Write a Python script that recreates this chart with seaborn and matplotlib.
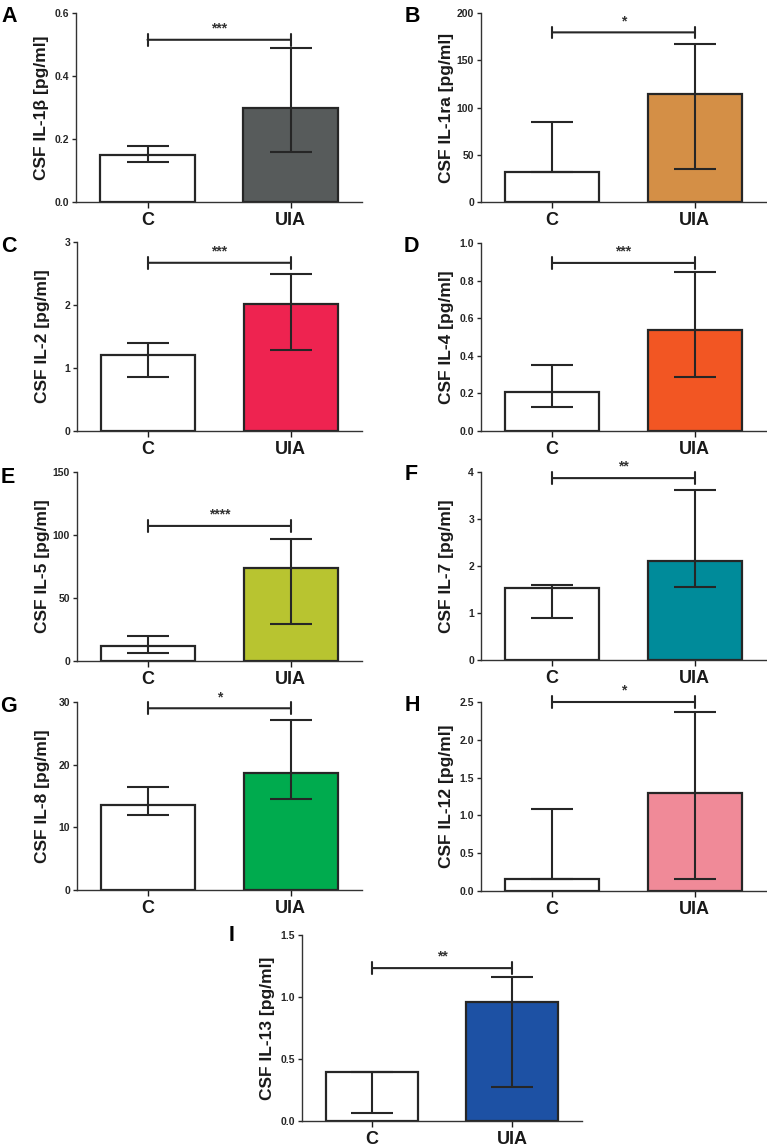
import matplotlib
matplotlib.use("Agg")
import matplotlib.pyplot as plt
import numpy as np
import pandas as pd
import seaborn as sns

# Panel data: bar height plus asymmetric error limits.
panels = ["A", "B", "C", "D", "E", "F", "G", "H", "I"]
ylabels = [
    "CSF IL-1β [pg/ml]", "CSF IL-1ra [pg/ml]", "CSF IL-2 [pg/ml]",
    "CSF IL-4 [pg/ml]", "CSF IL-5 [pg/ml]", "CSF IL-7 [pg/ml]",
    "CSF IL-8 [pg/ml]", "CSF IL-12 [pg/ml]", "CSF IL-13 [pg/ml]",
]
groups = ["C", "UIA"]
c_mid = [0.150, 31.5, 1.20, 0.205, 11.9, 1.53, 13.6, 0.155, 0.393]
c_low = [0.127, 31.5, 0.85, 0.129, 6.4, 0.90, 12.0, 0.165, 0.067]
c_high = [0.178, 84.8, 1.39, 0.349, 20.2, 1.60, 16.5, 1.09, 0.398]
uia_mid = [0.297, 113.8, 2.02, 0.538, 73.5, 2.11, 18.6, 1.29, 0.963]
uia_low = [0.160, 35.3, 1.285, 0.288, 29.2, 1.55, 14.5, 0.163, 0.275]
uia_high = [0.489, 166.8, 2.485, 0.846, 96.9, 3.61, 27.1, 2.367, 1.158]
stars = ["***", "*", "***", "***", "****", "**", "*", "*", "**"]
sig_y = [0.515, 179.5, 2.67, 0.894, 107.2, 3.87, 29.0, 2.5, 1.233]
y_max = [0.6, 200, 3, 1.0, 150, 4, 30, 2.5, 1.5]
y_step = [0.2, 50, 1, 0.2, 50, 1, 10, 0.5, 0.5]
y_decimals = [1, 0, 0, 1, 0, 0, 0, 1, 1]
uia_colors = ["#575b5b", "#d48f46", "#ee2350", "#f25623", "#b8c430",
              "#008b9a", "#00ab4e", "#f08a98", "#1d51a4"]

# Layout in pixels: axes (left, top, right, bottom) and panel letter (x, top)
W, H = 767, 1146
axes_px = [
    (76, 13, 362, 202), (481, 13, 766, 202),
    (77, 242, 362, 431), (481, 243, 766, 431),
    (77, 472, 362, 661), (481, 472, 766, 660),
    (77, 702, 362, 890), (481, 702, 766, 891),
    (302, 935, 582, 1121),
]
letter_px = [(1, 6), (405, 6), (1, 236), (404, 236), (1, 467),
             (405, 464), (0, 696), (405, 695), (229, 925)]

sns.set_theme(style="ticks")
plt.rcParams["font.family"] = ["Liberation Sans", "DejaVu Sans"]
plt.rcParams["font.weight"] = "bold"

INK = "#262626"

fig = plt.figure(figsize=(W / 100, H / 100), dpi=100)

for i in range(len(panels)):
    l, t, r, b = axes_px[i]
    ax = fig.add_axes([l / W, 1 - b / H, (r - l) / W, (b - t) / H])

    df = pd.DataFrame({"group": groups, "value": [c_mid[i], uia_mid[i]]})
    sns.barplot(
        data=df, x="group", y="value", hue="group",
        palette=["white", uia_colors[i]], saturation=1, width=0.66,
        edgecolor=INK, linewidth=1.6, legend=False, ax=ax,
    )

    mids = np.array([c_mid[i], uia_mid[i]])
    lows = np.array([c_low[i], uia_low[i]])
    highs = np.array([c_high[i], uia_high[i]])
    yerr = [np.clip(mids - lows, 0, None), np.clip(highs - mids, 0, None)]
    ax.errorbar([0, 1], mids, yerr=yerr, fmt="none", ecolor=INK,
                elinewidth=1.5, capsize=15, capthick=1.5, zorder=4)

    # significance bracket
    ax.annotate(
        "", xy=(0, sig_y[i]), xytext=(1, sig_y[i]), annotation_clip=False,
        arrowprops=dict(arrowstyle="|-|, widthA=0.35, widthB=0.35",
                        lw=1.5, color=INK, shrinkA=0, shrinkB=0),
    )
    ax.annotate(stars[i], xy=(0.5, sig_y[i]), xytext=(0, 3),
                textcoords="offset points", ha="center", va="bottom",
                fontsize=10, fontweight="bold", color="#333333",
                annotation_clip=False)

    ticks = np.arange(0, y_max[i] + y_step[i] / 2, y_step[i])
    ax.set_ylim(0, y_max[i])
    ax.set_xlim(-0.5, 1.5)
    ax.set_yticks(ticks)
    ax.set_yticklabels([f"{v:.{y_decimals[i]}f}" for v in ticks])
    ax.tick_params(axis="y", length=3, width=1, pad=2, labelsize=7.5,
                   colors=INK)
    ax.tick_params(axis="x", length=4, width=1, pad=3, labelsize=13,
                   colors="#1a1a1a")
    for lab in ax.get_xticklabels() + ax.get_yticklabels():
        lab.set_fontweight("bold")

    ax.set_xlabel("")
    ax.set_ylabel(ylabels[i], fontsize=12.5, fontweight="bold",
                  color="#1a1a1a")
    ax.yaxis.set_label_coords(-27 / (r - l), 0.5)

    sns.despine(ax=ax)
    for side in ("left", "bottom"):
        ax.spines[side].set_linewidth(1.0)
        ax.spines[side].set_color("#333333")

    lx, ly = letter_px[i]
    fig.text(lx / W, 1 - ly / H, panels[i], ha="left", va="top",
             fontsize=15.5, fontweight="bold", color="black")

fig.savefig("out.png", dpi=100, facecolor="white")
plt.close(fig)
